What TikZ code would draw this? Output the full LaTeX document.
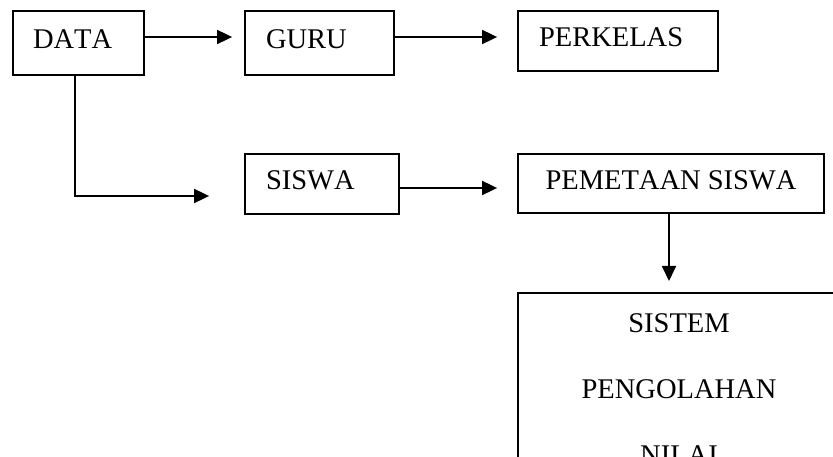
\documentclass[tikz,border=0pt]{standalone}
\usepackage{fontspec}
\setmainfont[Kerning=Off]{Liberation Serif}
\usetikzlibrary{arrows.meta}
\newcommand\diagfont{\fontsize{28.5pt}{34pt}\selectfont}
\begin{document}
\begin{tikzpicture}[x=1pt,y=-1pt,
  box/.style={draw, line width=1.8pt, rectangle, inner ysep=0pt,
              text height=20pt, text depth=8.5pt, font=\diagfont},
  leftbox/.style={box, align=left, inner xsep=21pt},
  link/.style={line width=1.8pt, -{Triangle[length=15pt,width=14pt]}}]
% page area
\fill[white] (0,0) rectangle (833,457);
\clip (0,0) rectangle (833,457);

% boxes
\node[leftbox, inner xsep=20pt, minimum width=131pt, minimum height=64pt, text width=91pt]
  (data) at (78.5,43) {DATA};
\node[leftbox, minimum width=149pt, minimum height=64pt, text width=107pt]
  (guru) at (319.5,43) {GURU};
\node[leftbox, minimum width=200pt, minimum height=60pt, text width=158pt]
  (perkelas) at (618,41) {PERKELAS};
\node[leftbox, minimum width=154pt, minimum height=60pt, text width=112pt]
  (siswa) at (322,184) {SISWA};
\node[box, minimum width=306pt, minimum height=59pt]
  (pemetaan) at (671,183.5) {PEMETAAN SISWA};
\node[draw, line width=1.8pt, anchor=north, align=center,
      font=\fontsize{28.5pt}{66pt}\selectfont,
      text width=302pt, inner xsep=10pt, inner ysep=20.6pt]
  (sistem) at (679,292) {SISTEM\\PENGOLAHAN\\NILAI};

% connectors
\draw[link] ([yshift=6pt]data.east) -- ([yshift=6pt,xshift=-12pt]guru.west);
\draw[link] ([yshift=6pt]guru.east) -- ([yshift=4pt,xshift=-20pt]perkelas.west);
\draw[link] ([xshift=-3.5pt]data.south) |- ([yshift=-12pt,xshift=-35pt]siswa.west);
\draw[link] ([yshift=-4pt]siswa.east) -- ([yshift=-4.5pt,xshift=-20pt]pemetaan.west);
\draw[link] ([xshift=-2pt]pemetaan.south) -- ([xshift=-10pt,yshift=11pt]sistem.north);
\end{tikzpicture}
\end{document}
